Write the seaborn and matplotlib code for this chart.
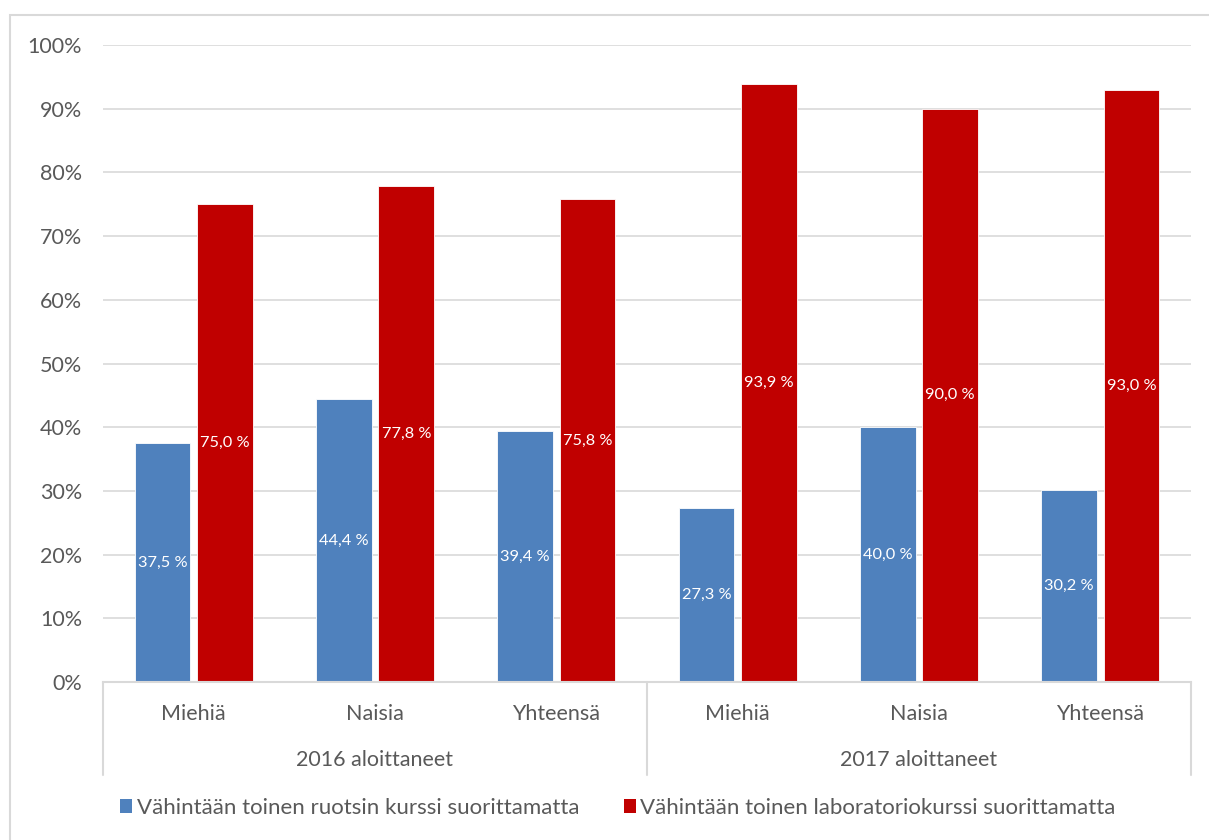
import matplotlib
matplotlib.use("Agg")
import matplotlib.pyplot as plt
import matplotlib.patches as mpatches
import matplotlib.transforms as mtransforms
import pandas as pd
import seaborn as sns

# Data
cohorts = ["2016 aloittaneet", "2017 aloittaneet"]
groups = ["Miehiä", "Naisia", "Yhteensä"]
series_names = [
    "Vähintään toinen ruotsin kurssi suorittamatta",
    "Vähintään toinen laboratoriokurssi suorittamatta",
]
swedish = [37.5, 44.4, 39.4, 27.3, 40.0, 30.2]
laboratory = [75.0, 77.8, 75.8, 93.9, 90.0, 93.0]
yticks = [0, 10, 20, 30, 40, 50, 60, 70, 80, 90, 100]

colors = ["#4F81BD", "#C00000"]
text_color = "#595959"
grid_color = "#D9D9D9"

# Long-form table
keys = [f"{c}|{g}" for c in cohorts for g in groups]
rows = []
for name, vals in zip(series_names, [swedish, laboratory]):
    for k, v in zip(keys, vals):
        rows.append({"key": k, "series": name, "value": v / 100.0})
df = pd.DataFrame(rows)

sns.set_style("white")
plt.rcParams["font.family"] = ["Lato", "DejaVu Sans"]

fig = plt.figure(figsize=(12.09, 8.4), dpi=100)
ax = fig.add_axes([103 / 1209, 1 - 682 / 840, (1191 - 103) / 1209, (682 - 45) / 840])

sns.barplot(
    data=df, x="key", y="value", hue="series", order=keys, hue_order=series_names,
    palette=colors, width=0.69, gap=0.11, ax=ax, legend=False,
    edgecolor="white", linewidth=0.6, saturation=1,
)

ax.set_ylim(0, 1)
ax.set_xlim(-0.5, len(keys) - 0.5)
ax.set_yticks([t / 100 for t in yticks])
ax.set_yticklabels([f"{t}%" for t in yticks], fontsize=15.5, color=text_color)
ax.yaxis.grid(True, color=grid_color, linewidth=1.2)
ax.set_axisbelow(True)
ax.tick_params(axis="y", length=0, pad=15)
ax.tick_params(axis="x", length=0, pad=16)
ax.set_xticks(range(len(keys)))
ax.set_xticklabels(groups * len(cohorts), fontsize=15.5, color=text_color)
ax.set_xlabel("")
ax.set_ylabel("")
for s in ["left", "right", "top"]:
    ax.spines[s].set_visible(False)
ax.spines["bottom"].set_color(grid_color)
ax.spines["bottom"].set_linewidth(1.5)

# Value labels centred inside bars
for container, vals in zip(ax.containers, [swedish, laboratory]):
    for bar, v in zip(container, vals):
        ax.text(bar.get_x() + bar.get_width() / 2, bar.get_height() / 2,
                f"{v:.1f} %".replace(".", ","), ha="center", va="center",
                color="white", fontsize=11.8)

# Multi-level category axis: separators and cohort labels
trans = mtransforms.blended_transform_factory(ax.transData, ax.transAxes)
for xpos in [-0.5, 2.5, 5.5]:
    ax.plot([xpos, xpos], [0, -0.146], transform=trans, color=grid_color,
            linewidth=1.5, clip_on=False)
for i, c in enumerate(cohorts):
    ax.text(i * 3 + 1, -0.122, c, transform=trans, ha="center", va="center",
            fontsize=15.5, color=text_color)

# Legend
handles = [mpatches.Patch(facecolor=col, edgecolor="none") for col in colors]
fig.legend(handles, series_names, loc="center", bbox_to_anchor=(618 / 1209, 1 - 808 / 840),
           ncol=2, frameon=False, fontsize=16, labelcolor=text_color,
           handlelength=0.55, handleheight=0.55, handletextpad=0.2, columnspacing=2.0)

# Chart-area frame
fig.add_artist(mpatches.Rectangle((10 / 1209, -0.1), 1.2, 1 - 15 / 840 + 0.1,
                                  transform=fig.transFigure, fill=False,
                                  edgecolor=grid_color, linewidth=1.5))

fig.savefig("out.png", dpi=100, facecolor="white")
